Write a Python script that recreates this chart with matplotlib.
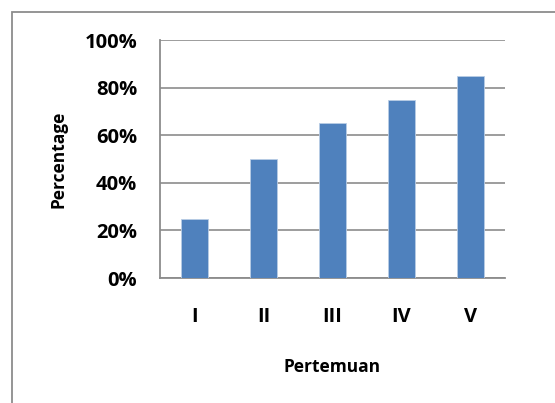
import matplotlib
matplotlib.use("Agg")
import matplotlib.pyplot as plt
from matplotlib.patches import Rectangle

categories = ["I", "II", "III", "IV", "V"]
values = [25, 50, 65, 75, 85]
y_ticks = [0, 20, 40, 60, 80, 100]
y_tick_labels = ["0%", "20%", "40%", "60%", "80%", "100%"]

plt.rcParams["font.family"] = ["Open Sans", "DejaVu Sans"]
plt.rcParams["font.weight"] = "bold"

W, H = 555, 403
fig = plt.figure(figsize=(W / 100, H / 100), dpi=100)
fig.patch.set_facecolor("white")

# chart-area frame (runs past the right and bottom edges)
fig.patches.append(Rectangle((12 / W, -0.05), 1.1, 1 - 12 / H + 0.05,
                             transform=fig.transFigure, fill=False,
                             edgecolor="#8c8c8c", linewidth=1.3))

ax = fig.add_axes([160 / W, 1 - 278 / H, (505 - 160) / W, (278 - 40) / H])
x = range(len(categories))
ax.bar(x, values, width=0.4, color="#4F81BD", edgecolor="#b9cde5",
       linewidth=0.6, zorder=3)

ax.set_xlim(-0.5, len(categories) - 0.5)
ax.set_ylim(0, 100)
ax.set_yticks(y_ticks)
ax.set_yticklabels(y_tick_labels, fontsize=14.5, fontweight="bold")
ax.set_xticks(list(x))
ax.set_xticklabels(categories, fontsize=14.5, fontweight="bold")
ax.tick_params(axis="both", length=0)
ax.tick_params(axis="y", pad=16.5)
ax.tick_params(axis="x", pad=21)

ax.grid(axis="y", color="#8c8c8c", linewidth=1.2, zorder=0)
for s in ("top", "right"):
    ax.spines[s].set_visible(False)
for s in ("left", "bottom"):
    ax.spines[s].set_color("#8c8c8c")
    ax.spines[s].set_linewidth(1.3)

ax.set_ylabel("Percentage", fontsize=12.5, fontweight="bold", labelpad=12)
ax.set_xlabel("Pertemuan", fontsize=12.5, fontweight="bold", labelpad=22)

fig.savefig("out.png", dpi=100)
